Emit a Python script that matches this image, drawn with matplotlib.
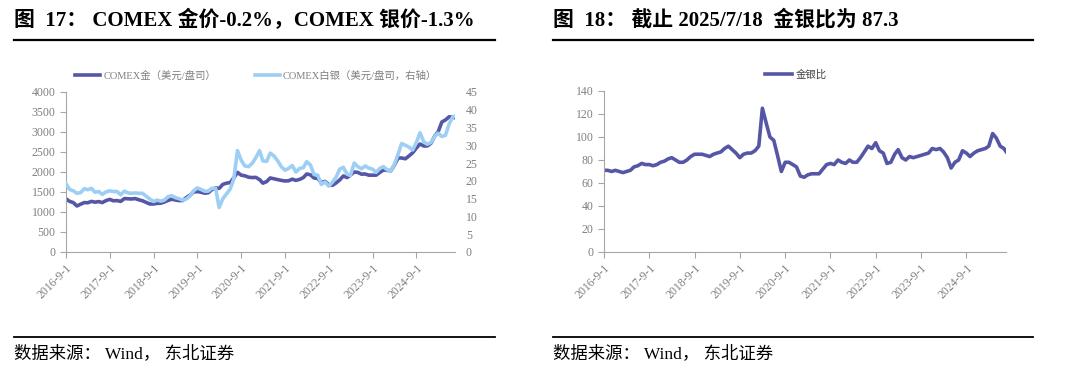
import matplotlib
matplotlib.use("Agg")
import matplotlib.pyplot as plt
from matplotlib.lines import Line2D
import pandas as pd

plt.rcParams['font.family'] = ['Liberation Serif', 'Noto Sans CJK SC', 'DejaVu Sans']
plt.rcParams['axes.unicode_minus'] = False

# 月度数据 2016-9 ~ 2025-7，最后一个点为 2025-7-18
dates = list(pd.date_range('2016-09-01', '2025-07-01', freq='MS')) + [pd.Timestamp('2025-07-18')]

gold = [1330, 1265, 1235, 1150,
        1195, 1235, 1230, 1265, 1245, 1260, 1235, 1285, 1315, 1280, 1285, 1265,
        1335, 1330, 1325, 1335, 1305, 1280, 1240, 1200, 1200, 1215, 1220, 1250,
        1290, 1320, 1300, 1285, 1285, 1360, 1415, 1500, 1510, 1495, 1470, 1480,
        1560, 1600, 1590, 1690, 1720, 1735, 1850, 1990, 1920, 1905, 1870, 1860,
        1865, 1810, 1720, 1760, 1850, 1830, 1810, 1790, 1775, 1780, 1820, 1790,
        1815, 1860, 1950, 1930, 1850, 1840, 1735, 1765, 1680, 1665, 1725, 1800,
        1900, 1860, 1920, 2000, 1990, 1945, 1950, 1920, 1920, 1920, 1990, 2050,
        2040, 2030, 2170, 2350, 2350, 2330, 2400, 2480, 2600, 2700, 2650, 2650,
        2720, 2900, 3000, 3250, 3300, 3380, 3370, 3358]

silver = [19.2, 17.6, 17.2, 16.5,
          16.7, 17.8, 17.5, 17.9, 16.8, 17.0, 16.2, 16.9, 17.2, 17.0, 17.0, 16.1,
          17.1, 16.6, 16.5, 16.6, 16.5, 16.5, 15.7, 14.9, 14.2, 14.6, 14.3, 14.6,
          15.6, 15.8, 15.3, 15.0, 14.6, 14.9, 15.7, 17.2, 18.0, 17.6, 17.1, 17.1,
          17.9, 17.9, 12.5, 15.0, 16.3, 17.7, 20.5, 28.5, 25.8, 24.2, 24.0, 24.9,
          26.5, 28.5, 25.6, 25.5, 27.8, 27.0, 25.7, 24.0, 23.0, 23.5, 24.3, 22.5,
          23.5, 23.7, 25.4, 24.5, 21.8, 21.6, 19.0, 19.7, 18.5, 19.6, 21.0, 23.3,
          23.8, 21.9, 21.5, 25.0, 24.0, 23.4, 24.2, 23.6, 23.3, 22.4, 23.5, 24.0,
          23.1, 22.8, 24.6, 27.5, 30.5, 30.0, 29.5, 28.7, 30.8, 33.5, 31.0, 30.3,
          30.8, 32.5, 33.4, 32.5, 32.8, 36.0, 38.0, 38.2]

ratio = [71, 71, 70, 71,
         70, 69, 70, 71, 74, 75, 77, 76, 76, 75, 76, 78,
         79, 81, 82, 80, 78, 78, 80, 83, 85, 85, 85, 84,
         83, 85, 86, 87, 90, 92, 89, 86, 82, 85, 86, 86,
         88, 92, 125, 112, 100, 97, 84, 70, 78, 78, 76, 74,
         66, 65, 67, 68, 68, 68, 72, 76, 77, 76, 80, 78,
         77, 80, 78, 78, 82, 87, 92, 90, 95, 88, 86, 77,
         78, 85, 89, 82, 80, 83, 82, 83, 84, 85, 86, 90,
         89, 90, 87, 82, 73, 78, 80, 88, 86, 83, 86, 88,
         89, 90, 92, 103, 99, 92, 90, 87.3]

tick_dates = [pd.Timestamp('%d-09-01' % y) for y in range(2016, 2025)]
tick_labels = ['%d-9-1' % y for y in range(2016, 2025)]

c_gold = '#5557A6'
c_silver = '#9DCFF4'
c_grid = '#A6A6A6'
c_text = '#7F7F7F'
tick_fs = 8.5

fig = plt.figure(figsize=(10.8, 3.67), dpi=100)


def style_axis(ax):
    for s in ['top', 'right']:
        ax.spines[s].set_visible(False)
    ax.spines['left'].set_color(c_grid)
    ax.spines['bottom'].set_color(c_grid)
    ax.tick_params(axis='both', colors=c_grid, labelcolor=c_text, labelsize=tick_fs, length=4, width=0.8)
    ax.set_xlim(pd.Timestamp('2016-09-01'), pd.Timestamp('2025-07-18'))
    ax.set_xticks(tick_dates)
    ax.set_xticklabels(tick_labels, rotation=45, ha='right', rotation_mode='anchor')


# ---- 左图 ----
ax1 = fig.add_axes([0.0611, 0.3134, 0.360, 0.436])
ax1.plot(dates, gold, color=c_gold, lw=2.6)
ax1.set_ylim(0, 4000)
ax1.set_yticks(range(0, 4001, 500))
style_axis(ax1)

ax2 = ax1.twinx()
ax2.plot(dates, silver, color=c_silver, lw=2.6)
ax2.set_ylim(0, 45)
ax2.set_yticks(range(0, 46, 5))
for s in ['top', 'right', 'left', 'bottom']:
    ax2.spines[s].set_visible(False)
ax2.tick_params(axis='y', length=0, labelcolor=c_text, labelsize=tick_fs, pad=8)

h = [Line2D([], [], color=c_gold, lw=2.6), Line2D([], [], color=c_silver, lw=2.6)]
fig.legend(h, ['COMEX金（美元/盘司）', 'COMEX白银（美元/盘司，右轴）'], ncol=2, frameon=False,
           loc='center left', bbox_to_anchor=(0.061, 1 - 76 / 367), fontsize=7.5,
           handlelength=2.4, handletextpad=0.3, columnspacing=3.7, labelcolor=c_text)

# ---- 右图 ----
ax3 = fig.add_axes([0.5593, 0.3134, 0.3722, 0.4387])
ax3.plot(dates, ratio, color=c_gold, lw=2.6)
ax3.set_ylim(0, 140)
ax3.set_yticks(range(0, 141, 20))
style_axis(ax3)
fig.legend([Line2D([], [], color=c_gold, lw=2.6)], ['金银比'], frameon=False,
           loc='center', bbox_to_anchor=(0.737, 1 - 75 / 367), fontsize=7.5,
           handlelength=2.6, handletextpad=0.3, labelcolor='#404040')

# ---- 标题、分隔线、来源 ----
for x0, x1, title in [(14, 495, '图  17： COMEX 金价-0.2%，COMEX 银价-1.3%'),
                      (553, 1033, '图  18： 截止 2025/7/18  金银比为 87.3')]:
    fig.text(x0 / 1080, 1 - 20 / 367, title, fontsize=15, fontweight='bold', va='center', ha='left')
    fig.add_artist(Line2D([x0 / 1080, x1 / 1080], [1 - 40 / 367] * 2, color='black', lw=1.6))
    fig.add_artist(Line2D([x0 / 1080, x1 / 1080], [1 - 337 / 367] * 2, color='black', lw=1.3))
    fig.text(x0 / 1080, 1 - 354 / 367, '数据来源： Wind， 东北证券', fontsize=12.5, va='center', ha='left')

fig.savefig('out.png', dpi=100)
